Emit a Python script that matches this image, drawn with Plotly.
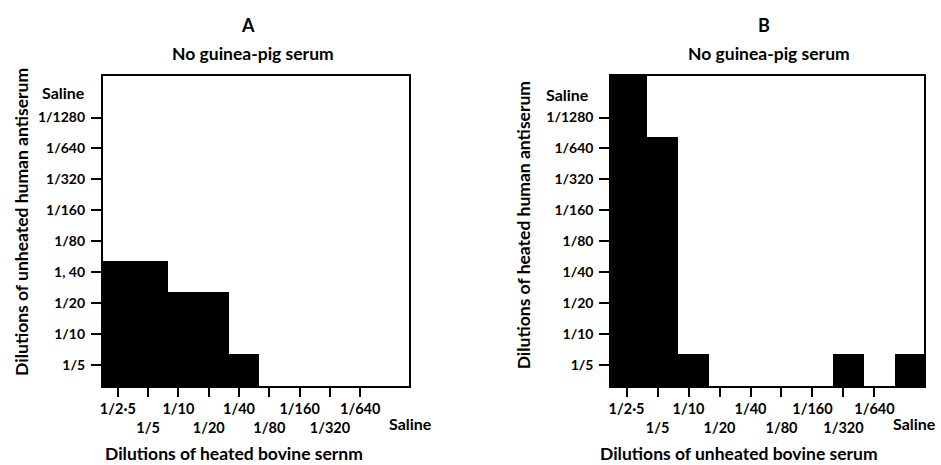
import plotly.graph_objects as go

# Dilution levels along each axis (index 1..10)
bovine_idx = [1, 2, 3, 4, 5, 6, 7, 8, 9, 10]
bovine_ticks = ["1/2·5", "1/5", "1/10", "1/20", "1/40", "1/80", "1/160", "1/320", "1/640"]
antiserum_idx = [1, 2, 3, 4, 5, 6, 7, 8, 9]
antiserum_ticks_A = ["1/5", "1/10", "1/20", "1, 40", "1/80", "1/160", "1/320", "1/640", "1/1280"]
antiserum_ticks_B = ["1/5", "1/10", "1/20", "1/40", "1/80", "1/160", "1/320", "1/640", "1/1280"]

# Highest antiserum dilution level reached (1 = 1/5 ... 9 = 1/1280, 10 = Saline, 0 = none)
levels_A = [4, 4, 3, 3, 1, 0, 0, 0, 0, 0]
levels_B = [10, 8, 1, 0, 0, 0, 0, 1, 0, 1]

# style constants
CELL_TOP = 0.38
CELL_OFF = -0.35
Y_RANGE = [0.32, 10.36]
X_RANGE = [0.5, 10.6]
FONT = "Lato"

fig = go.Figure()

def add_panel(levels, xa, ya):
    n = len(levels)
    x0 = bovine_idx[0]
    left = X_RANGE[0]
    widths = [(x0 + CELL_OFF + 1.0) - left if i == 0 else 1.0 for i in range(n)]
    offsets = [left - x0 if i == 0 else CELL_OFF for i in range(n)]
    fig.add_trace(go.Bar(
        x=bovine_idx,
        y=[(l + CELL_TOP) if l > 0 else 0 for l in levels],
        width=widths, offset=offsets,
        marker=dict(color="black", line=dict(width=0)),
        xaxis=xa, yaxis=ya, showlegend=False, hoverinfo="skip",
    ))

add_panel(levels_A, "x", "y")
add_panel(levels_B, "x2", "y2")

ydom = [1 - 386 / 465, 1 - 75.5 / 465]
axis_common = dict(showline=True, linecolor="black", linewidth=1.6, mirror=True,
                   ticks="outside", tickwidth=1.6, tickcolor="black",
                   showgrid=False, zeroline=False, fixedrange=True, tickangle=0)
xfont = dict(family=FONT, size=14.5, color="black", weight="bold")
yfont = dict(family=FONT, size=14, color="black", weight="bold")

xticktext = [t if i % 2 == 0 else "<br>" + t for i, t in enumerate(bovine_ticks)]

fig.update_layout(
    width=941, height=465, margin=dict(l=0, r=0, t=0, b=0),
    paper_bgcolor="white", plot_bgcolor="white", bargap=0,
    xaxis=dict(domain=[100 / 941, 407 / 941], range=X_RANGE, anchor="y", ticklen=9,
               tickvals=bovine_idx[:9], ticktext=xticktext, tickfont=xfont, **axis_common),
    yaxis=dict(domain=ydom, range=Y_RANGE, anchor="x", ticklen=10, ticklabelstandoff=3,
               tickvals=antiserum_idx, ticktext=antiserum_ticks_A, tickfont=yfont, **axis_common),
    xaxis2=dict(domain=[610 / 941, 924 / 941], range=X_RANGE, anchor="y2", ticklen=9,
                tickvals=bovine_idx[:9], ticktext=xticktext, tickfont=xfont, **axis_common),
    yaxis2=dict(domain=ydom, range=Y_RANGE, anchor="x2", ticklen=10, ticklabelstandoff=3,
                tickvals=antiserum_idx, ticktext=antiserum_ticks_B, tickfont=yfont, **axis_common),
)

ann = []
def txt(x, y, s, size=16, weight="bold", xanchor="center", angle=0):
    ann.append(dict(x=x, y=y, text=s, xref="paper", yref="paper", showarrow=False,
                    xanchor=xanchor, yanchor="middle", textangle=angle, borderpad=0,
                    font=dict(family=FONT, size=size, color="black", weight=weight)))

H = 465.0
W = 941.0
TS = 17.5
# Panel A
txt(246 / W, 1 - 25 / H, "A", size=18)
txt(251 / W, 1 - 53 / H, "No guinea-pig serum", size=TS)
txt(83 / W, 1 - 92 / H, "Saline", xanchor="right")
txt(386 / W, 1 - 423 / H, "Saline", xanchor="left")
txt(232 / W, 1 - 453 / H, "Dilutions of heated bovine sernm", size=TS)
txt(18 / W, 1 - 222 / H, "Dilutions of unheated human antiserum", size=TS, angle=-90)
# Panel B
txt(763 / W, 1 - 25 / H, "B", size=18)
txt(768 / W, 1 - 53 / H, "No guinea-pig serum", size=TS)
txt(589 / W, 1 - 94 / H, "Saline", xanchor="right")
txt(892 / W, 1 - 423 / H, "Saline", xanchor="left")
txt(738 / W, 1 - 453 / H, "Dilutions of unheated bovine serum", size=TS)
txt(522 / W, 1 - 225 / H, "Dilutions of heated human antiserum", size=TS, angle=-90)

fig.update_layout(annotations=ann)
fig.write_html("out.html")
